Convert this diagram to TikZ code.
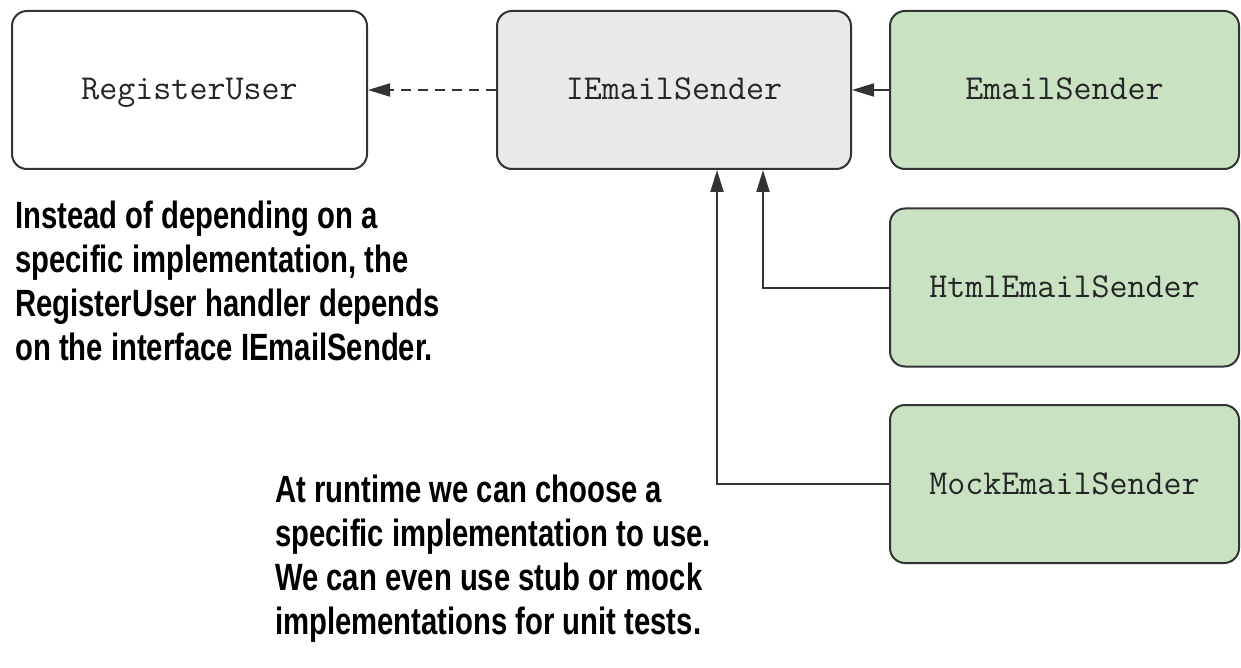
\documentclass[tikz,border=0pt]{standalone}
\usepackage{fontspec}
\usetikzlibrary{arrows.meta,calc}
\newfontfamily\notefont[FakeStretch=0.77]{Liberation Sans}
\definecolor{boxline}{HTML}{333333}
\definecolor{ifill}{HTML}{E8E9E9}
\definecolor{gfill}{HTML}{C8E2C2}
\tikzset{
  cls/.style={draw=boxline, line width=2pt, rounded corners=15pt, minimum height=158pt,
    inner sep=0pt, text height=24pt, text depth=4pt,
    font=\ttfamily\fontsize{35}{38}\selectfont, text=black!85},
  impl/.style={cls, fill=gfill, minimum width=349pt},
  arr/.style={draw=boxline, line width=2pt, -{Triangle[length=22pt,width=13pt]}},
  note/.style={anchor=north west, inner sep=0pt, align=left,
    font=\notefont\bfseries\fontsize{38}{44}\selectfont}
}
\begin{document}
\begin{tikzpicture}[x=1pt,y=-1pt]
\useasboundingbox (0,0) rectangle (1241,668);
\node[cls, minimum width=355pt] (ru) at (189.5,90) {RegisterUser};
\node[cls, fill=ifill, minimum width=354pt] (ies) at (674,90) {IEmailSender};
\node[impl] (es) at (1064.5,90) {EmailSender};
\node[impl] (html) at (1064.5,287.5) {HtmlEmailSender};
\node[impl] (mock) at (1064.5,484) {MockEmailSender};
\draw[arr, dash pattern=on 10pt off 7pt] (ies.west) -- (ru.east);
\draw[arr] (es.west) -- (ies.east);
\draw[arr] (html.west) -| ([xshift=89pt]ies.south);
\draw[arr] (mock.west) -| ([xshift=43pt]ies.south);
\node[note] (n1) at (15,201) {Instead of depending on a\\specific implementation, the\\RegisterUser handler depends\\on the interface IEmailSender.};
\node[note] (n2) at (275,475) {At runtime we can choose a\\specific implementation to use.\\We can even use stub or mock\\implementations for unit tests.};
\end{tikzpicture}
\end{document}
